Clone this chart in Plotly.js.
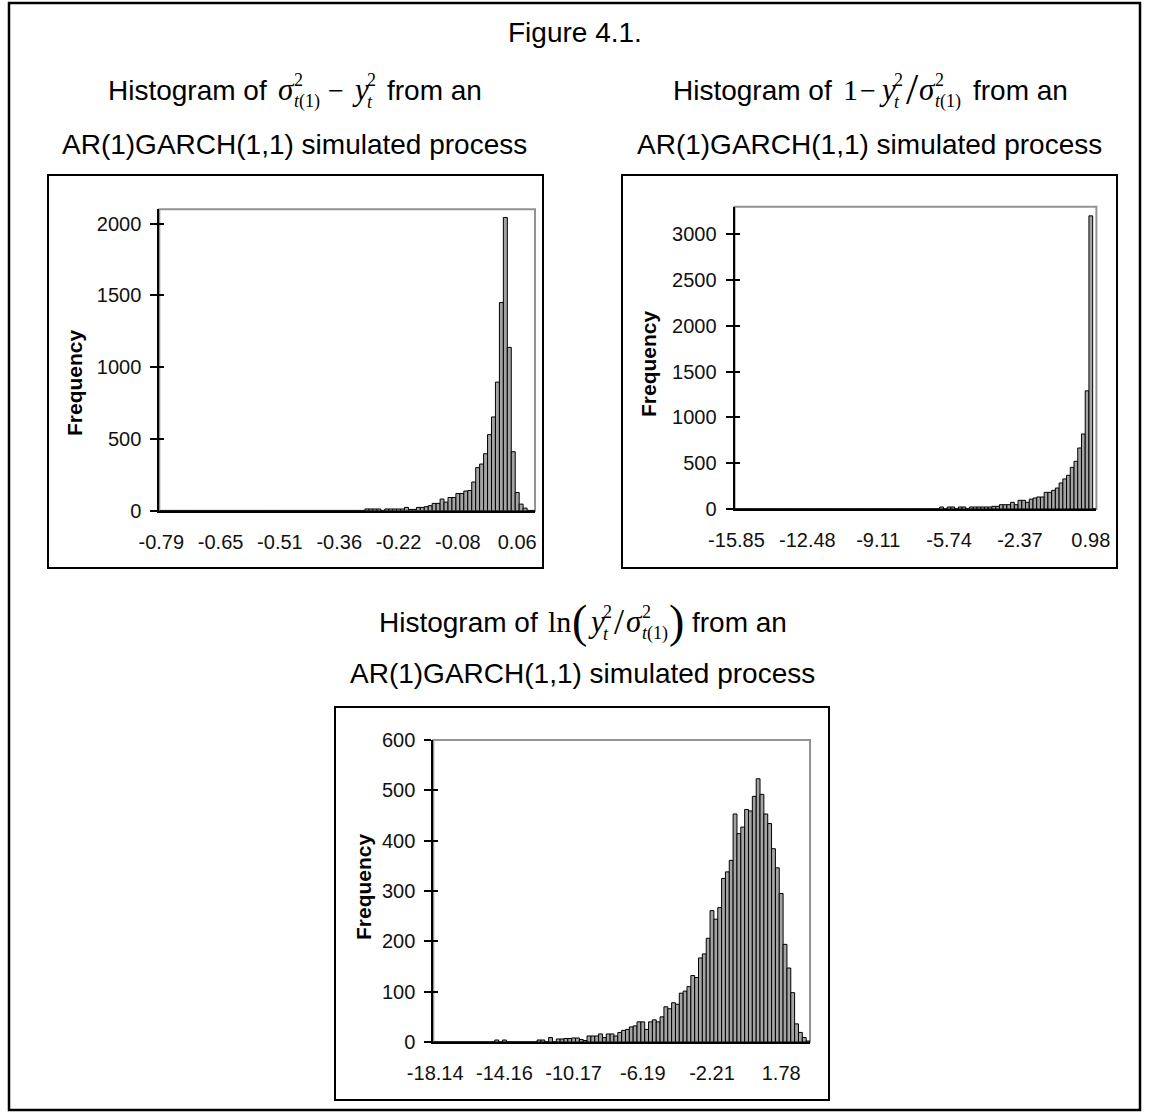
<!DOCTYPE html>
<html>
<head>
<meta charset="utf-8">
<script src="https://cdn.plot.ly/plotly-3.0.1.min.js"></script>
<style>
html, body { margin: 0; padding: 0; background: #ffffff; }
#chart { width: 1151px; height: 1115px; }
</style>
</head>
<body>
<div id="chart"></div>
<script>
// ---------------- DATA ----------------
const figTitle = 'Figure 4.1.';
const subTitle = 'AR(1)GARCH(1,1) simulated process';
const yTitle = 'Frequency';

// Histogram 1: sigma^2 - y^2   (95 bins, label every 15 bins)
const xLabels1 = ['-0.79', '-0.65', '-0.51', '-0.36', '-0.22', '-0.08', '0.06'];
const labelEvery1 = 15;
const freq1 = [
  0, 0, 0, 0, 0, 0, 0, 0, 0, 0,
  0, 0, 0, 0, 0, 0, 0, 0, 0, 0,
  0, 0, 0, 0, 0, 0, 0, 0, 0, 0,
  0, 0, 0, 0, 0, 0, 0, 0, 0, 0,
  0, 0, 0, 0, 0, 0, 0, 0, 0, 0,
  0, 0, 12, 12, 12, 12, 0, 12, 12, 12,
  12, 12, 23, 9, 9, 23, 23, 28, 35, 51,
  51, 81, 60, 92, 92, 120, 120, 137, 141, 200,
  300, 325, 397, 530, 653, 896, 1450, 2043, 1138, 411,
  127, 46, 18, 0, 0
];
const yTicks1 = [0, 500, 1000, 1500, 2000];
const yMax1 = 2100;

// Histogram 2: 1 - y^2/sigma^2   (97 bins, label every 19 bins)
const xLabels2 = ['-15.85', '-12.48', '-9.11', '-5.74', '-2.37', '0.98'];
const labelEvery2 = 19;
const freq2 = [
  0, 0, 0, 0, 0, 0, 0, 0, 0, 0,
  0, 0, 0, 0, 0, 0, 0, 0, 0, 0,
  0, 0, 0, 0, 0, 0, 0, 0, 0, 0,
  0, 0, 0, 0, 0, 0, 0, 0, 0, 0,
  0, 0, 0, 0, 0, 0, 0, 0, 0, 0,
  0, 0, 0, 0, 0, 22, 0, 22, 22, 0,
  22, 22, 0, 22, 22, 22, 22, 22, 22, 29,
  29, 47, 47, 47, 73, 47, 95, 95, 73, 107,
  120, 131, 131, 182, 182, 204, 229, 284, 328, 368,
  455, 521, 666, 819, 1290, 3200, 0
];
const yTicks2 = [0, 500, 1000, 1500, 2000, 2500, 3000];
const yMax2 = 3300;

// Histogram 3: ln(y^2/sigma^2)   (98 bins, label every 18 bins)
const xLabels3 = ['-18.14', '-14.16', '-10.17', '-6.19', '-2.21', '1.78'];
const labelEvery3 = 18;
const freq3 = [
  0, 0, 0, 0, 0, 0, 0, 0, 0, 0,
  0, 0, 0, 0, 0, 0, 4, 0, 4, 0,
  0, 0, 0, 0, 0, 0, 0, 4, 4, 0,
  9, 0, 6, 6, 7, 7, 8, 8, 5, 3,
  12, 12, 12, 16, 9, 16, 16, 12, 19, 23,
  25, 30, 32, 40, 40, 25, 40, 44, 40, 50,
  70, 66, 78, 75, 97, 101, 110, 132, 128, 167,
  175, 206, 261, 244, 267, 325, 338, 361, 453, 414,
  427, 462, 459, 488, 523, 492, 453, 434, 384, 346,
  295, 194, 147, 98, 36, 19, 9, 2
];
const yTicks3 = [0, 100, 200, 300, 400, 500, 600];
const yMax3 = 600;

// ---------------- LAYOUT HELPERS ----------------
const W = 1151, H = 1115;
const SANS = 'Liberation Sans';
const SERIF = 'Liberation Serif';
const fx = x => x / W;
const fy = y => 1 - y / H;

const panels = [
  { freq: freq1, labels: xLabels1, every: labelEvery1, yTicks: yTicks1, yMax: yMax1,
    plot: [159.3, 209.3, 535, 510.7], frame: [48, 175, 543, 568], freqPos: [75, 383] },
  { freq: freq2, labels: xLabels2, every: labelEvery2, yTicks: yTicks2, yMax: yMax2,
    plot: [734.6, 206.7, 1096.4, 509], frame: [622, 175, 1117, 568], freqPos: [649, 364] },
  { freq: freq3, labels: xLabels3, every: labelEvery3, yTicks: yTicks3, yMax: yMax3,
    plot: [433.3, 740, 810, 1042], frame: [335, 707, 829, 1100], freqPos: [363, 887] }
];

const tickFont = { family: SANS, size: 20, color: '#111111' };
const data = [];
const layout = {
  width: W, height: H, autosize: false,
  margin: { l: 0, r: 0, t: 0, b: 0, pad: 0 },
  paper_bgcolor: '#ffffff', plot_bgcolor: '#ffffff',
  showlegend: false, bargap: 0,
  shapes: [], annotations: []
};

panels.forEach((p, k) => {
  const n = k + 1;
  const ov = k + 4;
  const idx = p.freq.map((_, i) => i);
  data.push({
    type: 'bar', x: idx, y: p.freq,
    xaxis: 'x' + n, yaxis: 'y' + n,
    marker: { color: '#a4a4a4', line: { color: '#000000', width: 1 } },
    hoverinfo: 'skip'
  });
  data.push({ type: 'scatter', x: [], y: [], xaxis: 'x' + n, yaxis: 'y' + ov, hoverinfo: 'skip' });
  const tv = p.labels.map((_, j) => j * p.every);
  layout['xaxis' + n] = {
    domain: [fx(p.plot[0]), fx(p.plot[2])], anchor: 'y' + n,
    range: [-0.5, p.freq.length - 0.5], type: 'linear',
    tickvals: tv, ticktext: p.labels, ticks: '', tickfont: tickFont,
    ticklabelstandoff: 12,
    showline: true, linecolor: '#000000', linewidth: 2,
    showgrid: false, zeroline: false, fixedrange: true
  };
  const yAxisCommon = {
    domain: [fy(p.plot[3]), fy(p.plot[1])], anchor: 'x' + n,
    range: [0, p.yMax], tickvals: p.yTicks, ticktext: p.yTicks.map(String),
    showgrid: false, zeroline: false, fixedrange: true
  };
  layout['yaxis' + n] = Object.assign({}, yAxisCommon, {
    ticks: 'outside', ticklen: 7, tickwidth: 2, tickcolor: '#000000',
    tickfont: tickFont, ticklabelstandoff: 5,
    showline: true, linecolor: '#000000', linewidth: 2
  });
  layout['yaxis' + ov] = Object.assign({}, yAxisCommon, {
    overlaying: 'y' + n, side: 'left',
    ticks: 'inside', ticklen: 5, tickwidth: 2, tickcolor: '#000000',
    showticklabels: false, showline: false
  });
  // plot-area border (grey)
  layout.shapes.push({
    type: 'rect', xref: 'x' + n + ' domain', yref: 'y' + n + ' domain',
    x0: 0, x1: 1, y0: 0, y1: 1, layer: 'below',
    line: { color: '#939393', width: 2 }, fillcolor: 'rgba(0,0,0,0)'
  });
  // chart frame
  layout.shapes.push({
    type: 'rect', xref: 'paper', yref: 'paper',
    x0: fx(p.frame[0]), x1: fx(p.frame[2]), y0: fy(p.frame[3]), y1: fy(p.frame[1]),
    line: { color: '#000000', width: 2 }, fillcolor: 'rgba(0,0,0,0)'
  });
  // y title
  layout.annotations.push({
    xref: 'paper', yref: 'paper', x: fx(p.freqPos[0]), y: fy(p.freqPos[1]),
    xanchor: 'center', yanchor: 'middle', textangle: -90, showarrow: false,
    text: '<b>' + yTitle + '</b>', font: { family: SANS, size: 21, color: '#000000' }
  });
});

// outer border
layout.shapes.push({
  type: 'rect', xref: 'paper', yref: 'paper',
  x0: fx(9), x1: fx(1140), y0: fy(1110), y1: fy(3),
  line: { color: '#000000', width: 2.5 }, fillcolor: 'rgba(0,0,0,0)'
});

// ---------------- TEXT / MATH TITLES ----------------
const cv = document.createElement('canvas').getContext('2d');
function measure(text, fam, size, it) {
  cv.font = (it ? 'italic ' : '') + size + 'px "' + fam + '"';
  return cv.measureText(text).width;
}
function ann(text, x, yc, fam, size, anchor) {
  return {
    xref: 'paper', yref: 'paper', x: fx(x), y: fy(yc),
    xanchor: anchor || 'left', yanchor: 'middle', showarrow: false,
    borderpad: 0, text: text, font: { family: fam, size: size, color: '#000000' }
  };
}
const SP = measure(' ', SANS, 28);
// parts: {t, fam, size, it, gap, dy} or {sup, sub, subParts, size, gap}
function mathLine(parts, cx, base) {
  const widths = parts.map(p => {
    if (p.sup !== undefined) {
      const ws = p.subParts.reduce((s, q) => s + measure(q[0], SERIF, p.size, q[1]), 0);
      return Math.max(measure(p.sup, SERIF, p.size, false), ws);
    }
    return measure(p.t, p.fam, p.size, p.it);
  });
  const total = widths.reduce((s, w, i) => s + w + (parts[i].gap || 0), 0);
  let x = cx - total / 2;
  parts.forEach((p, i) => {
    if (p.sup !== undefined) {
      layout.annotations.push(ann(p.sup, x, base - 14 - 0.34 * p.size, SERIF, p.size));
      layout.annotations.push(ann(p.sub, x, base + 8 - 0.34 * p.size, SERIF, p.size));
    } else {
      const txt = p.it ? '<i>' + p.t + '</i>' : p.t;
      layout.annotations.push(ann(txt, x, base + (p.dy || 0) - 0.35 * p.size, p.fam, p.size));
    }
    x += widths[i] + (p.gap || 0);
  });
}
const S = 18;
const supSub = (sub, subParts, gap) => ({ sup: '2', sub: sub, subParts: subParts, size: S, gap: gap });
const subT1 = ['<i>t</i>(1)', [['t', true], ['(1)', false]]];
const subT = ['<i>t</i>', [['t', true]]];

// Figure title
layout.annotations.push(ann(figTitle, 575, 32, SANS, 28, 'center'));

// Chart 1 title
mathLine([
  { t: 'Histogram of', fam: SANS, size: 28, gap: SP + 4 },
  { t: 'σ', fam: SERIF, size: 31, it: true, gap: 1 },
  supSub(subT1[0], subT1[1], SP),
  { t: '−', fam: SERIF, size: 28, gap: SP },
  { t: 'y', fam: SERIF, size: 31, it: true, gap: 1 },
  supSub(subT[0], subT[1], SP + 4),
  { t: 'from an', fam: SANS, size: 28 }
], 294, 100);
layout.annotations.push(ann(subTitle, 294, 145, SANS, 28, 'center'));

// Chart 2 title
mathLine([
  { t: 'Histogram of', fam: SANS, size: 28, gap: SP + 4 },
  { t: '1', fam: SERIF, size: 30, gap: 2 },
  { t: '−', fam: SERIF, size: 28, gap: 3 },
  { t: 'y', fam: SERIF, size: 31, it: true, gap: 1 },
  supSub(subT[0], subT[1], 3),
  { t: '/', fam: SERIF, size: 44, dy: 5, gap: 1 },
  { t: 'σ', fam: SERIF, size: 31, it: true, gap: 1 },
  supSub(subT1[0], subT1[1], SP + 4),
  { t: 'from an', fam: SANS, size: 28 }
], 869.5, 100);
layout.annotations.push(ann(subTitle, 869.5, 145, SANS, 28, 'center'));

// Chart 3 title
mathLine([
  { t: 'Histogram of', fam: SANS, size: 28, gap: SP + 3 },
  { t: 'ln', fam: SERIF, size: 30, gap: 0 },
  { t: '(', fam: SERIF, size: 46, dy: 6, gap: 1 },
  { t: 'y', fam: SERIF, size: 31, it: true, gap: 1 },
  supSub(subT[0], subT[1], 2),
  { t: '/', fam: SERIF, size: 36, dy: 3, gap: 2 },
  { t: 'σ', fam: SERIF, size: 31, it: true, gap: 1 },
  supSub(subT1[0], subT1[1], 1),
  { t: ')', fam: SERIF, size: 46, dy: 6, gap: SP },
  { t: 'from an', fam: SANS, size: 28 }
], 582, 632);
layout.annotations.push(ann(subTitle, 582, 673, SANS, 28, 'center'));

Plotly.newPlot('chart', data, layout, { displayModeBar: false, staticPlot: true });
</script>
</body>
</html>
